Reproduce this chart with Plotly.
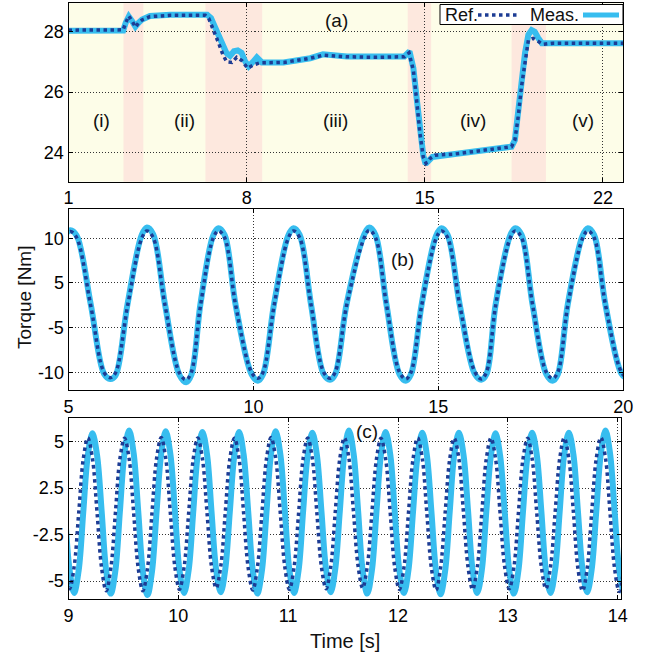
import plotly.graph_objects as go

# ---------------- Panel (a) data ----------------
a_ref_t = [1.0, 3.15, 3.25, 3.37, 3.5, 3.63, 3.76, 3.89, 4.2, 5.0, 6.0, 6.38, 6.51, 6.7, 6.9,
           7.07, 7.22, 7.42, 7.61, 7.81, 8.04, 8.27, 8.53, 9.45, 10.5, 11.0, 11.94, 13.0, 14.2,
           14.38, 14.55, 14.68, 14.81, 14.94, 15.05, 15.21, 15.4, 16.11, 17.43, 18.41, 18.54,
           18.67, 18.8, 18.94, 19.07, 19.26, 19.46, 19.65, 20.05, 21.0, 22.8]
a_ref_v = [28.05, 28.06, 28.3, 28.52, 28.35, 28.15, 28.3, 28.39, 28.5, 28.54, 28.54, 28.54,
           28.44, 28.06, 27.62, 27.23, 27.0, 26.98, 27.15, 27.04, 26.79, 26.9, 26.97, 26.98,
           27.12, 27.22, 27.17, 27.15, 27.17, 27.3, 26.73, 25.73, 24.63, 23.85, 23.64, 23.8,
           23.91, 23.94, 24.08, 24.19, 24.41, 25.18, 26.18, 27.06, 27.72, 27.78, 27.67, 27.58,
           27.62, 27.62, 27.62]
a_meas_t = [1.0, 3.15, 3.25, 3.37, 3.5, 3.63, 3.76, 3.89, 4.2, 5.0, 6.0, 6.45, 6.6, 6.8, 7.0,
            7.2, 7.35, 7.5, 7.65, 7.8, 7.95, 8.08, 8.25, 8.4, 8.6, 9.45, 10.5, 11.0, 11.94, 13.0,
            14.2, 14.4, 14.55, 14.68, 14.81, 14.94, 15.03, 15.15, 15.3, 16.11, 17.43, 18.41,
            18.54, 18.67, 18.8, 18.94, 19.07, 19.2, 19.32, 19.45, 19.6, 20.05, 21.0, 22.8]
a_meas_v = [28.03, 28.04, 28.3, 28.5, 28.35, 28.17, 28.3, 28.4, 28.52, 28.56, 28.56, 28.56,
            28.45, 28.1, 27.65, 27.3, 27.2, 27.35, 27.38, 27.3, 27.0, 26.85, 27.0, 27.15, 26.98,
            26.98, 27.12, 27.25, 27.18, 27.16, 27.18, 27.35, 26.8, 25.8, 24.7, 23.9, 23.62,
            23.75, 23.85, 23.94, 24.08, 24.19, 24.41, 25.2, 26.3, 27.3, 27.9, 28.05, 28.0, 27.8,
            27.62, 27.62, 27.62, 27.62]
a_band_start = [3.16, 6.38, 14.33, 18.41]
a_band_end = [3.94, 8.61, 15.25, 19.76]
a_region_labels = ["(i)", "(ii)", "(iii)", "(iv)", "(v)"]
a_region_x = [2.28, 5.57, 11.5, 16.9, 21.23]
a_region_y = 25.07
a_xticks = [1, 8, 15, 22]
a_yticks = [24, 26, 28]

# ---------------- Panel (b) data ----------------
b_t = [4.55, 4.9, 5.05, 5.22, 5.6, 5.96, 6.13, 6.27, 6.6, 6.98, 7.12, 7.29, 7.61, 8.0, 8.18,
       8.32, 8.57, 8.91, 9.05, 9.22, 9.52, 9.95, 10.12, 10.26, 10.56, 10.94, 11.08, 11.25,
       11.56, 11.9, 12.07, 12.21, 12.52, 12.99, 13.13, 13.3, 13.6, 13.95, 14.12, 14.26, 14.55,
       14.94, 15.08, 15.25, 15.58, 15.99, 16.16, 16.3, 16.55, 16.94, 17.08, 17.25, 17.55,
       17.92, 18.09, 18.23, 18.5, 18.9, 19.04, 19.21, 19.52, 19.95, 20.12]
b_ref_v = [0.0, 10.0, 11.0, 10.1, 0.0, -10.0, -10.8, -10.1, 0.0, 10.0, 11.1, 10.1, 0.0, -10.1,
           -11.1, -10.0, 0.0, 10.0, 11.1, 10.1, 0.0, -10.0, -10.9, -10.0, 0.0, 10.0, 11.1, 10.1,
           0.0, -10.0, -10.9, -10.0, 0.0, 10.0, 11.2, 10.1, 0.0, -10.0, -11.0, -10.0, 0.0,
           10.0, 11.1, 10.1, 0.0, -10.0, -11.0, -10.0, 0.0, 10.0, 11.1, 10.1, 0.0,
           -10.0, -10.9, -10.0, 0.0, 10.0, 11.1, 10.1, 0.0, -10.0, -10.9]
b_meas_v = [0.0, 10.3, 11.2, 10.4, 0.2, -10.2, -11.0, -10.5, 0.3, 10.5, 11.6, 10.6, 0.1, -10.4,
            -11.5, -10.4, 0.3, 10.4, 11.5, 10.5, 0.0, -10.3, -11.25, -10.3, 0.3, 10.4, 11.5,
            10.5, 0.0, -10.3, -11.1, -10.3, 0.2, 10.5, 11.6, 10.5, 0.0, -10.3, -11.25, -10.3,
            0.2, 10.4, 11.5, 10.5, 0.0, -10.3, -11.1, -10.3, 0.2, 10.4, 11.5, 10.5, 0.0,
            -10.3, -11.25, -10.3, 0.2, 10.4, 11.5, 10.5, 0.0, -10.2, -11.0]
b_xticks = [5, 10, 15, 20]
b_ytick_pos = [-10, -10 / 3, 10 / 3, 10]
b_ytick_text = ["-10", "-5", "5", "10"]

# ---------------- Panel (c) data ----------------
c_t = [8.968, 9.010, 9.051, 9.093, 9.135, 9.176, 9.218, 9.260,
       9.302, 9.343, 9.385, 9.427, 9.468, 9.510, 9.552, 9.593,
       9.635, 9.677, 9.719, 9.760, 9.802, 9.844, 9.885, 9.927,
       9.969, 10.010, 10.052, 10.094, 10.136, 10.177, 10.219, 10.261,
       10.302, 10.344, 10.386, 10.427, 10.469, 10.511, 10.553, 10.594,
       10.636, 10.678, 10.719, 10.761, 10.803, 10.844, 10.886, 10.928,
       10.970, 11.011, 11.053, 11.095, 11.136, 11.178, 11.220, 11.261,
       11.303, 11.345, 11.387, 11.428, 11.470, 11.512, 11.553, 11.595,
       11.637, 11.678, 11.720, 11.762, 11.804, 11.845, 11.887, 11.929,
       11.970, 12.012, 12.054, 12.095, 12.137, 12.179, 12.221, 12.262,
       12.304, 12.346, 12.387, 12.429, 12.471, 12.512, 12.554, 12.596,
       12.638, 12.679, 12.721, 12.763, 12.804, 12.846, 12.888, 12.929,
       12.971, 13.013, 13.055, 13.096, 13.138, 13.180, 13.221, 13.263,
       13.305, 13.346, 13.388, 13.430, 13.472, 13.513, 13.555, 13.597,
       13.638, 13.680, 13.722, 13.763, 13.805, 13.847, 13.889, 13.930,
       13.972, 14.014, 14.055]
c_ref_v = [-4.0, -5.55, -4.0, -0.1, 3.8, 5.28, 3.8, -0.1,
           -4.1, -5.7, -4.1, -0.1, 3.78, 5.25, 3.78, -0.1,
           -4.1, -5.7, -4.1, -0.1, 3.82, 5.3, 3.82, -0.1,
           -4.03, -5.6, -4.03, -0.1, 3.79, 5.27, 3.79, -0.1,
           -3.96, -5.5, -3.96, -0.1, 3.78, 5.25, 3.78, -0.1,
           -4.07, -5.65, -4.07, -0.1, 3.82, 5.3, 3.82, -0.1,
           -4.03, -5.6, -4.03, -0.1, 3.79, 5.27, 3.79, -0.1,
           -4.0, -5.55, -4.0, -0.1, 3.8, 5.28, 3.8, -0.1,
           -3.96, -5.5, -3.96, -0.1, 3.78, 5.25, 3.78, -0.1,
           -4.03, -5.6, -4.03, -0.1, 3.79, 5.27, 3.79, -0.1,
           -4.07, -5.65, -4.07, -0.1, 3.78, 5.25, 3.78, -0.1,
           -4.03, -5.6, -4.03, -0.1, 3.79, 5.26, 3.79, -0.1,
           -4.0, -5.55, -4.0, -0.1, 3.78, 5.25, 3.78, -0.1,
           -4.0, -5.55, -4.0, -0.1, 3.79, 5.27, 3.79, -0.1,
           -4.1, -5.7, -4.1, -0.1, 3.82, 5.3, 3.82, -0.1,
           -4.14, -5.75, -4.14]
c_meas_v = [0.0, -4.21, -5.85, -4.21, 0.0, 4.03, 5.6, 4.03,
            0.0, -4.25, -5.9, -4.25, 0.0, 4.18, 5.8, 4.18,
            0.0, -4.32, -6.0, -4.32, 0.0, 4.14, 5.75, 4.14,
            0.0, -4.21, -5.85, -4.21, 0.0, 4.1, 5.7, 4.1,
            0.0, -4.18, -5.8, -4.18, 0.0, 4.1, 5.7, 4.1,
            0.0, -4.25, -5.9, -4.25, 0.0, 4.14, 5.75, 4.14,
            0.0, -4.21, -5.85, -4.21, 0.0, 4.07, 5.65, 4.07,
            0.0, -4.18, -5.8, -4.18, 0.0, 4.18, 5.8, 4.18,
            0.0, -4.25, -5.9, -4.25, 0.0, 4.1, 5.7, 4.1,
            0.0, -4.21, -5.85, -4.21, 0.0, 4.07, 5.65, 4.07,
            0.0, -4.28, -5.95, -4.28, 0.0, 4.07, 5.65, 4.07,
            0.0, -4.21, -5.85, -4.21, 0.0, 4.03, 5.6, 4.03,
            0.0, -4.25, -5.9, -4.25, 0.0, 4.07, 5.65, 4.07,
            0.0, -4.21, -5.85, -4.21, 0.0, 4.07, 5.65, 4.07,
            0.0, -4.18, -5.8, -4.18, 0.0, 4.18, 5.8, 4.18,
            0.0, -4.25, -5.9]
c_xticks = [9, 10, 11, 12, 13, 14]
c_ytick_pos = [-5, -5 / 3, 5 / 3, 5]
c_ytick_text = ["-5", "-2.5", "2.5", "5"]

legend_labels = ["Ref.", "Meas."]

# ---------------- styling ----------------
W, H = 649, 661
FONT = "Liberation Sans, Arial, Helvetica, sans-serif"
REF_COLOR = "#1d3c94"
MEAS_COLOR = "#37bdef"
REF_DASH = "3.5px,3.5px"


def px_x(p):
    return p / W


def px_y(p):
    return 1 - p / H


fig = go.Figure()

fig.add_trace(go.Scatter(x=a_meas_t, y=a_meas_v, mode="lines", xaxis="x", yaxis="y",
                         line=dict(color=MEAS_COLOR, width=6), showlegend=False))
fig.add_trace(go.Scatter(x=a_ref_t, y=a_ref_v, mode="lines", xaxis="x", yaxis="y",
                         line=dict(color=REF_COLOR, width=3.5, dash=REF_DASH), showlegend=False))
fig.add_trace(go.Scatter(x=b_t, y=b_meas_v, mode="lines", xaxis="x2", yaxis="y2",
                         line=dict(color=MEAS_COLOR, width=6, shape="spline"), showlegend=False))
fig.add_trace(go.Scatter(x=b_t, y=b_ref_v, mode="lines", xaxis="x2", yaxis="y2",
                         line=dict(color=REF_COLOR, width=3.5, dash=REF_DASH, shape="spline"),
                         showlegend=False))
fig.add_trace(go.Scatter(x=c_t, y=c_meas_v, mode="lines", xaxis="x3", yaxis="y3",
                         line=dict(color=MEAS_COLOR, width=6, shape="spline"),
                         showlegend=False))
fig.add_trace(go.Scatter(x=c_t, y=c_ref_v, mode="lines", xaxis="x3", yaxis="y3",
                         line=dict(color=REF_COLOR, width=3.5, dash=REF_DASH, shape="spline"),
                         showlegend=False))

axis_common = dict(showline=True, linecolor="black", linewidth=1, mirror="ticks",
                   ticks="inside", ticklen=4, tickcolor="black", showgrid=True,
                   gridcolor="#333333", griddash="1px,2px", gridwidth=1, zeroline=False,
                   tickfont=dict(family=FONT, size=18, color="black"), automargin=False)

xl, xr = px_x(68.5), px_x(623.3)
fig.update_layout(
    width=W, height=H, margin=dict(l=0, r=0, t=0, b=0),
    paper_bgcolor="white", plot_bgcolor="white", showlegend=False,
    font=dict(family=FONT, size=18, color="black"),
    xaxis=dict(domain=[xl, xr], range=[1, 22.8], anchor="y", tickvals=a_xticks, **axis_common),
    yaxis=dict(domain=[px_y(181.7), px_y(3.3)], range=[23.03, 28.94], anchor="x",
               tickvals=a_yticks, **axis_common),
    xaxis2=dict(domain=[xl, xr], range=[5, 20], anchor="y2", tickvals=b_xticks, **axis_common),
    yaxis2=dict(domain=[px_y(390), px_y(209)], range=[-12.64, 14.37], anchor="x2",
                tickvals=b_ytick_pos, ticktext=b_ytick_text, **axis_common),
    xaxis3=dict(domain=[xl, px_x(621)], range=[9, 14.03], anchor="y3", tickvals=c_xticks,
                **axis_common),
    yaxis3=dict(domain=[px_y(599.3), px_y(418.3)], range=[-6.31, 6.68], anchor="x3",
                tickvals=c_ytick_pos, ticktext=c_ytick_text, **axis_common),
)

shapes = [dict(type="rect", xref="x domain", yref="y domain", x0=0, x1=1, y0=0, y1=1,
               fillcolor="#fdfde8", line=dict(width=0), layer="below")]
for s, e in zip(a_band_start, a_band_end):
    shapes.append(dict(type="rect", xref="x", yref="y domain", x0=s, x1=e, y0=0, y1=1,
                       fillcolor="#fde8de", line=dict(width=0), layer="below"))

# manual legend (text before sample, as in the reference)
shapes.append(dict(type="rect", xref="paper", yref="paper", x0=px_x(440), x1=px_x(623),
                   y0=px_y(24.5), y1=px_y(4.5), fillcolor="white",
                   line=dict(color="black", width=1), layer="above"))
shapes.append(dict(type="line", xref="paper", yref="paper", x0=px_x(478), x1=px_x(518),
                   y0=px_y(15), y1=px_y(15), line=dict(color=REF_COLOR, width=3.5, dash=REF_DASH),
                   layer="above"))
shapes.append(dict(type="line", xref="paper", yref="paper", x0=px_x(583), x1=px_x(619),
                   y0=px_y(15), y1=px_y(15), line=dict(color=MEAS_COLOR, width=5),
                   layer="above"))
fig.update_layout(shapes=shapes)


def label(x, y, text, size=19, xref="paper", yref="paper", xanchor="center", angle=0):
    return dict(x=x, y=y, xref=xref, yref=yref, text=text, showarrow=False,
                xanchor=xanchor, yanchor="middle", textangle=angle,
                font=dict(family=FONT, size=size, color="#111"))


ann = []
for lab, xv in zip(a_region_labels, a_region_x):
    ann.append(label(xv, a_region_y, lab, xref="x", yref="y"))
ann.append(label(px_x(336), px_y(21), "(a)"))
ann.append(label(px_x(402), px_y(259), "(b)"))
ann.append(label(px_x(367), px_y(431), "(c)"))
ann.append(label(px_x(443), px_y(15), legend_labels[0], size=18, xanchor="left"))
ann.append(label(px_x(528), px_y(15), legend_labels[1], size=18, xanchor="left"))
ann.append(label(px_x(24), px_y(298), "Torque [Nm]", angle=-90))
ann.append(label(px_x(345), px_y(641), "Time [s]", size=20))
fig.update_layout(annotations=ann)

fig.write_html("out.html")
